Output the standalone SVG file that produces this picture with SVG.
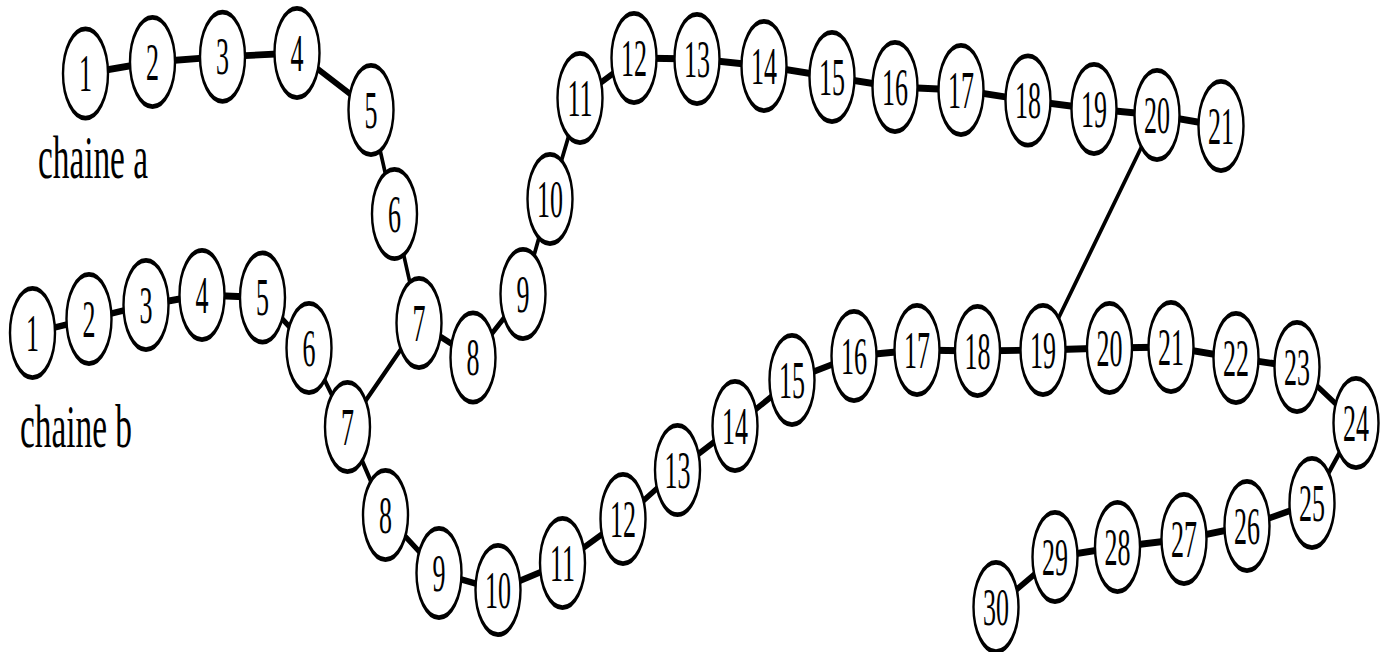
<svg xmlns="http://www.w3.org/2000/svg" width="1389" height="652" viewBox="0 0 1389 652">
<style>
.n ellipse{fill:#fff;stroke:#000;stroke-width:2.4}
.n text{font-family:"Liberation Serif","Times New Roman",serif;font-size:26px;text-anchor:middle;fill:#000}
.c line{stroke:#000;stroke-width:3.4;stroke-linecap:round}
.c line.x{stroke-width:3}
.lbl{font-family:"Liberation Serif","Times New Roman",serif;font-size:31px;fill:#000}
</style>
<rect width="1389" height="652" fill="#fff"/>
<g transform="scale(1,2)">
<g id="connectors" class="c">
<line x1="85.5" y1="36.75" x2="152.5" y2="31"/>
<line x1="152.5" y1="31" x2="222.5" y2="28.35"/>
<line x1="222.5" y1="28.35" x2="297" y2="26.5"/>
<line x1="297" y1="26.5" x2="371" y2="55"/>
<line x1="371" y1="55" x2="394.5" y2="107"/>
<line x1="394.5" y1="107" x2="419" y2="161.5"/>
<line x1="419" y1="161.5" x2="473" y2="178.75"/>
<line x1="473" y1="178.75" x2="523" y2="147"/>
<line x1="523" y1="147" x2="550" y2="99.5"/>
<line x1="550" y1="99.5" x2="580" y2="49"/>
<line x1="580" y1="49" x2="634" y2="29"/>
<line x1="634" y1="29" x2="697" y2="29.5"/>
<line x1="697" y1="29.5" x2="764" y2="33"/>
<line x1="764" y1="33" x2="832" y2="38.5"/>
<line x1="832" y1="38.5" x2="895" y2="43.5"/>
<line x1="895" y1="43.5" x2="961" y2="45"/>
<line x1="961" y1="45" x2="1028" y2="50.25"/>
<line x1="1028" y1="50.25" x2="1094" y2="54.5"/>
<line x1="1094" y1="54.5" x2="1157" y2="57.5"/>
<line x1="1157" y1="57.5" x2="1221" y2="63"/>
<line x1="32.5" y1="166.5" x2="89" y2="159.5"/>
<line x1="89" y1="159.5" x2="146" y2="152.5"/>
<line x1="146" y1="152.5" x2="202" y2="147.5"/>
<line x1="202" y1="147.5" x2="262.5" y2="148.75"/>
<line x1="262.5" y1="148.75" x2="309" y2="174"/>
<line x1="309" y1="174" x2="347.5" y2="213.5"/>
<line x1="347.5" y1="213.5" x2="385.5" y2="257.5"/>
<line x1="385.5" y1="257.5" x2="439" y2="286.5"/>
<line x1="439" y1="286.5" x2="498" y2="295"/>
<line x1="498" y1="295" x2="562.5" y2="281.5"/>
<line x1="562.5" y1="281.5" x2="623" y2="259.5"/>
<line x1="623" y1="259.5" x2="677.5" y2="235"/>
<line x1="677.5" y1="235" x2="735" y2="213"/>
<line x1="735" y1="213" x2="792" y2="190"/>
<line x1="792" y1="190" x2="854" y2="178"/>
<line x1="854" y1="178" x2="917" y2="175"/>
<line x1="917" y1="175" x2="977.5" y2="175.5"/>
<line x1="977.5" y1="175.5" x2="1043" y2="175"/>
<line x1="1043" y1="175" x2="1109.5" y2="174"/>
<line x1="1109.5" y1="174" x2="1171" y2="173.5"/>
<line x1="1171" y1="173.5" x2="1236" y2="179"/>
<line x1="1236" y1="179" x2="1297" y2="183.5"/>
<line x1="1297" y1="183.5" x2="1356" y2="211.5"/>
<line x1="1356" y1="211.5" x2="1312" y2="251.5"/>
<line x1="1312" y1="251.5" x2="1247" y2="263"/>
<line x1="1247" y1="263" x2="1184" y2="269.5"/>
<line x1="1184" y1="269.5" x2="1117.5" y2="273.5"/>
<line x1="1117.5" y1="273.5" x2="1055" y2="278.5"/>
<line x1="1055" y1="278.5" x2="996" y2="303.5"/>
<line class="x" x1="419" y1="161.5" x2="347.5" y2="213.5"/>
<line class="x" x1="1157" y1="57.5" x2="1043" y2="175"/>
</g>
<g id="a1" class="n"><ellipse cx="85.5" cy="36.75" rx="22.5" ry="22.3"/><text x="85.5" y="45.5">1</text></g>
<g id="a2" class="n"><ellipse cx="152.5" cy="31" rx="22.5" ry="22.3"/><text x="152.5" y="39.8">2</text></g>
<g id="a3" class="n"><ellipse cx="222.5" cy="28.35" rx="22.5" ry="22.3"/><text x="222.5" y="37.1">3</text></g>
<g id="a4" class="n"><ellipse cx="297" cy="26.5" rx="22.5" ry="22.3"/><text x="297" y="35.3">4</text></g>
<g id="a5" class="n"><ellipse cx="371" cy="55" rx="22.5" ry="22.3"/><text x="371" y="63.8">5</text></g>
<g id="a6" class="n"><ellipse cx="394.5" cy="107" rx="22.5" ry="22.3"/><text x="394.5" y="115.8">6</text></g>
<g id="a7" class="n"><ellipse cx="419" cy="161.5" rx="22.5" ry="22.3"/><text x="419" y="170.3">7</text></g>
<g id="a8" class="n"><ellipse cx="473" cy="178.75" rx="22.5" ry="22.3"/><text x="473" y="187.5">8</text></g>
<g id="a9" class="n"><ellipse cx="523" cy="147" rx="22.5" ry="22.3"/><text x="523" y="155.8">9</text></g>
<g id="a10" class="n"><ellipse cx="550" cy="99.5" rx="22.5" ry="22.3"/><text x="550" y="108.3">10</text></g>
<g id="a11" class="n"><ellipse cx="580" cy="49" rx="22.5" ry="22.3"/><text x="580" y="57.8">11</text></g>
<g id="a12" class="n"><ellipse cx="634" cy="29" rx="22.5" ry="22.3"/><text x="634" y="37.8">12</text></g>
<g id="a13" class="n"><ellipse cx="697" cy="29.5" rx="22.5" ry="22.3"/><text x="697" y="38.3">13</text></g>
<g id="a14" class="n"><ellipse cx="764" cy="33" rx="22.5" ry="22.3"/><text x="764" y="41.8">14</text></g>
<g id="a15" class="n"><ellipse cx="832" cy="38.5" rx="22.5" ry="22.3"/><text x="832" y="47.3">15</text></g>
<g id="a16" class="n"><ellipse cx="895" cy="43.5" rx="22.5" ry="22.3"/><text x="895" y="52.3">16</text></g>
<g id="a17" class="n"><ellipse cx="961" cy="45" rx="22.5" ry="22.3"/><text x="961" y="53.8">17</text></g>
<g id="a18" class="n"><ellipse cx="1028" cy="50.25" rx="22.5" ry="22.3"/><text x="1028" y="59">18</text></g>
<g id="a19" class="n"><ellipse cx="1094" cy="54.5" rx="22.5" ry="22.3"/><text x="1094" y="63.3">19</text></g>
<g id="a20" class="n"><ellipse cx="1157" cy="57.5" rx="22.5" ry="22.3"/><text x="1157" y="66.3">20</text></g>
<g id="a21" class="n"><ellipse cx="1221" cy="63" rx="22.5" ry="22.3"/><text x="1221" y="71.8">21</text></g>
<g id="b1" class="n"><ellipse cx="32.5" cy="166.5" rx="22.5" ry="22.3"/><text x="32.5" y="175.3">1</text></g>
<g id="b2" class="n"><ellipse cx="89" cy="159.5" rx="22.5" ry="22.3"/><text x="89" y="168.3">2</text></g>
<g id="b3" class="n"><ellipse cx="146" cy="152.5" rx="22.5" ry="22.3"/><text x="146" y="161.3">3</text></g>
<g id="b4" class="n"><ellipse cx="202" cy="147.5" rx="22.5" ry="22.3"/><text x="202" y="156.3">4</text></g>
<g id="b5" class="n"><ellipse cx="262.5" cy="148.75" rx="22.5" ry="22.3"/><text x="262.5" y="157.5">5</text></g>
<g id="b6" class="n"><ellipse cx="309" cy="174" rx="22.5" ry="22.3"/><text x="309" y="182.8">6</text></g>
<g id="b7" class="n"><ellipse cx="347.5" cy="213.5" rx="22.5" ry="22.3"/><text x="347.5" y="222.3">7</text></g>
<g id="b8" class="n"><ellipse cx="385.5" cy="257.5" rx="22.5" ry="22.3"/><text x="385.5" y="266.3">8</text></g>
<g id="b9" class="n"><ellipse cx="439" cy="286.5" rx="22.5" ry="22.3"/><text x="439" y="295.3">9</text></g>
<g id="b10" class="n"><ellipse cx="498" cy="295" rx="22.5" ry="22.3"/><text x="498" y="303.8">10</text></g>
<g id="b11" class="n"><ellipse cx="562.5" cy="281.5" rx="22.5" ry="22.3"/><text x="562.5" y="290.3">11</text></g>
<g id="b12" class="n"><ellipse cx="623" cy="259.5" rx="22.5" ry="22.3"/><text x="623" y="268.3">12</text></g>
<g id="b13" class="n"><ellipse cx="677.5" cy="235" rx="22.5" ry="22.3"/><text x="677.5" y="243.8">13</text></g>
<g id="b14" class="n"><ellipse cx="735" cy="213" rx="22.5" ry="22.3"/><text x="735" y="221.8">14</text></g>
<g id="b15" class="n"><ellipse cx="792" cy="190" rx="22.5" ry="22.3"/><text x="792" y="198.8">15</text></g>
<g id="b16" class="n"><ellipse cx="854" cy="178" rx="22.5" ry="22.3"/><text x="854" y="186.8">16</text></g>
<g id="b17" class="n"><ellipse cx="917" cy="175" rx="22.5" ry="22.3"/><text x="917" y="183.8">17</text></g>
<g id="b18" class="n"><ellipse cx="977.5" cy="175.5" rx="22.5" ry="22.3"/><text x="977.5" y="184.3">18</text></g>
<g id="b19" class="n"><ellipse cx="1043" cy="175" rx="22.5" ry="22.3"/><text x="1043" y="183.8">19</text></g>
<g id="b20" class="n"><ellipse cx="1109.5" cy="174" rx="22.5" ry="22.3"/><text x="1109.5" y="182.8">20</text></g>
<g id="b21" class="n"><ellipse cx="1171" cy="173.5" rx="22.5" ry="22.3"/><text x="1171" y="182.3">21</text></g>
<g id="b22" class="n"><ellipse cx="1236" cy="179" rx="22.5" ry="22.3"/><text x="1236" y="187.8">22</text></g>
<g id="b23" class="n"><ellipse cx="1297" cy="183.5" rx="22.5" ry="22.3"/><text x="1297" y="192.3">23</text></g>
<g id="b24" class="n"><ellipse cx="1356" cy="211.5" rx="22.5" ry="22.3"/><text x="1356" y="220.3">24</text></g>
<g id="b25" class="n"><ellipse cx="1312" cy="251.5" rx="22.5" ry="22.3"/><text x="1312" y="260.3">25</text></g>
<g id="b26" class="n"><ellipse cx="1247" cy="263" rx="22.5" ry="22.3"/><text x="1247" y="271.8">26</text></g>
<g id="b27" class="n"><ellipse cx="1184" cy="269.5" rx="22.5" ry="22.3"/><text x="1184" y="278.3">27</text></g>
<g id="b28" class="n"><ellipse cx="1117.5" cy="273.5" rx="22.5" ry="22.3"/><text x="1117.5" y="282.3">28</text></g>
<g id="b29" class="n"><ellipse cx="1055" cy="278.5" rx="22.5" ry="22.3"/><text x="1055" y="287.3">29</text></g>
<g id="b30" class="n"><ellipse cx="996" cy="303.5" rx="22.5" ry="22.3"/><text x="996" y="312.3">30</text></g>
<text class="lbl" x="38" y="89" textLength="110" lengthAdjust="spacingAndGlyphs">chaine a</text>
<text class="lbl" x="20" y="223.5" textLength="112" lengthAdjust="spacingAndGlyphs">chaine b</text>
</g>
</svg>
